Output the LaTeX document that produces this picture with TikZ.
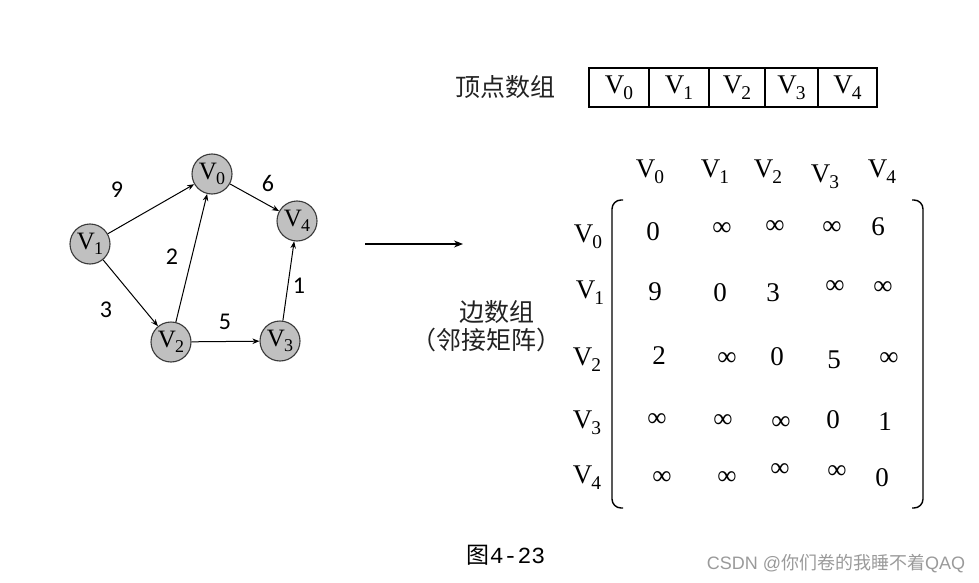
\documentclass[tikz,border=0pt]{standalone}
\usepackage{fontspec}
\setmainfont{Liberation Serif}
\newfontfamily\cjkfont{Noto Sans CJK SC}
\newfontfamily\wtfont{Carlito}
\newfontfamily\capfont{Liberation Mono}
\newfontfamily\markfont{Liberation Sans}
\usetikzlibrary{arrows.meta,positioning}
\definecolor{vfill}{HTML}{C0C0C0}
\definecolor{vline}{HTML}{3A3A3A}
\definecolor{ink}{HTML}{222222}
\definecolor{wmark}{HTML}{9A9A9A}
\newcommand{\vx}[1]{V\kern-0.03em\raisebox{-0.22em}{\scalebox{0.72}{#1}}}

\begin{document}
\begin{tikzpicture}[
  x=1pt, y=-1pt,
  vert/.style={
    circle, draw=vline, fill=vfill, line width=1.1pt,
    minimum size=40pt, inner sep=0pt, font=\fontsize{25}{25}\selectfont
  },
  wt/.style={font=\wtfont\fontsize{24}{24}\selectfont},
  edge/.style={-{Stealth[length=7pt,width=5.5pt]}, line width=1pt},
  bigarrow/.style={-{Stealth[length=9pt,width=7pt]}, line width=1.1pt},
  cell/.style={
    draw, line width=1.4pt, minimum height=39pt, inner sep=0pt,
    font=\fontsize{27}{27}\selectfont
  },
  ent/.style={inner sep=0pt, font=\fontsize{27}{27}\selectfont},
  cjk/.style={font=\cjkfont\fontsize{25}{25}\selectfont, text=ink},
  paren/.style={line width=1.4pt, rounded corners=9pt}
]
  \useasboundingbox (0,0) rectangle (979,583);

  % Graph
  \node[vert] (v0) at (212,174) {\vx0};
  \node[vert] (v1) at (90,244)  {\vx1};
  \node[vert] (v2) at (171,342) {\vx2};
  \node[vert] (v3) at (280,341) {\vx3};
  \node[vert] (v4) at (297,221) {\vx4};

  \draw[edge] (v1) -- (v0);
  \draw[edge] (v0) -- (v4);
  \draw[edge] (v1) -- (v2);
  \draw[edge] (v2) -- (v0);
  \draw[edge] (v2) -- (v3);
  \draw[edge] (v3) -- (v4);

  \node[wt] (w10) at (117,190) {9};
  \node[wt] (w04) at (268,183) {6};
  \node[wt] (w20) at (172,257) {2};
  \node[wt] (w12) at (106,310) {3};
  \node[wt] (w23) at (225,322) {5};
  \node[wt] (w34) at (299,286) {1};

  % Arrow to the storage
  \coordinate (from) at (365,244);
  \coordinate (to)   at (463,244);
  \draw[bigarrow] (from) -- (to);

  % Vertex array
  \node[cjk] (vlabel) at (505,87) {顶点数组};
  \node[cell, minimum width=60pt] (c0) at (619,87.5)   {\vx0};
  \node[cell, minimum width=60pt] (c1) at (679,87.5)   {\vx1};
  \node[cell, minimum width=56pt] (c2) at (737,87.5)   {\vx2};
  \node[cell, minimum width=53pt] (c3) at (791.5,87.5) {\vx3};
  \node[cell, minimum width=59pt] (c4) at (847.5,87.5) {\vx4};

  % Edge array
  \node[cjk] (elabel) at (497,312) {边数组};
  \node[cjk] (enote)  at (486,340) {（邻接矩阵）};

  \node[ent] (h0) at (650,172) {\vx0};
  \node[ent] (h1) at (715,172) {\vx1};
  \node[ent] (h2) at (768,172) {\vx2};
  \node[ent] (h3) at (825,177) {\vx3};
  \node[ent] (h4) at (882,172) {\vx4};

  \node[ent] (r0) at (588,237) {\vx0};
  \node[ent] (r1) at (590,293) {\vx1};
  \node[ent] (r2) at (587,360) {\vx2};
  \node[ent] (r3) at (587,423) {\vx3};
  \node[ent] (r4) at (587,478) {\vx4};

  \draw[paren] (623,200) -- (612,200) -- (612,508) -- (623,508);
  \draw[paren] (912,200) -- (923,200) -- (923,508) -- (912,508);

  \node[ent] (m00) at (653,232) {0};
  \node[ent] (m01) at (722,229) {∞};
  \node[ent] (m02) at (775,227) {∞};
  \node[ent] (m03) at (832,228) {∞};
  \node[ent] (m04) at (878,227) {6};

  \node[ent] (m10) at (655,292) {9};
  \node[ent] (m11) at (720,293) {0};
  \node[ent] (m12) at (773,293) {3};
  \node[ent] (m13) at (835,287) {∞};
  \node[ent] (m14) at (883,288) {∞};

  \node[ent] (m20) at (659,356) {2};
  \node[ent] (m21) at (727,359) {∞};
  \node[ent] (m22) at (777,357) {0};
  \node[ent] (m23) at (834,360) {5};
  \node[ent] (m24) at (889,359) {∞};

  \node[ent] (m30) at (657,420) {∞};
  \node[ent] (m31) at (723,421) {∞};
  \node[ent] (m32) at (781,423) {∞};
  \node[ent] (m33) at (833,420) {0};
  \node[ent] (m34) at (885,422) {1};

  \node[ent] (m40) at (662,478) {∞};
  \node[ent] (m41) at (727,478) {∞};
  \node[ent] (m42) at (780,470) {∞};
  \node[ent] (m43) at (837,472) {∞};
  \node[ent] (m44) at (882,478) {0};

  % Caption and watermark
  \node[font=\fontsize{23}{23}\selectfont] (cap) at (506,555) {{\cjkfont 图}{\capfont 4-23}};
  \node[text=wmark, font=\fontsize{18}{18}\selectfont] (wm) at (836,564)
    {{\markfont CSDN @}{\cjkfont 你们卷的我睡不着}{\markfont QAQ}};
\end{tikzpicture}
\end{document}
